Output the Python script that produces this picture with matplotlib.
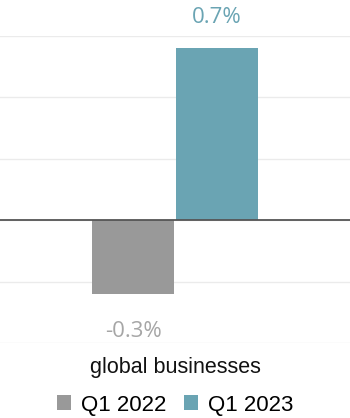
import matplotlib
matplotlib.use("Agg")
import matplotlib.pyplot as plt
from matplotlib.patches import Patch
from matplotlib.ticker import MultipleLocator

categories = ["global businesses"]
series = ["Q1 2022", "Q1 2023"]
values = [-0.3, 0.7]
labels = ["-0.3%", "0.7%"]
colors = ["#999999", "#6aa4b3"]
label_colors = ["#a6a6a6", "#6aa4b3"]

fig = plt.figure(figsize=(3.5, 4.18), dpi=100)
ax = fig.add_axes([0.0, 1 - 343/418, 1.0, (343 - 36)/418])

width = 0.234
offsets = [-0.12, 0.12]
for i, (s, v) in enumerate(zip(series, values)):
    bars = ax.bar(0 + offsets[i], v, width=width, color=colors[i], zorder=2)
    b = bars[0]
    dy = 31 if v >= 0 else -38
    ax.annotate(labels[i], (b.get_x() + b.get_width()/2, v), xytext=(0, dy),
                textcoords="offset pixels", ha="center", va="center",
                fontsize=16, family="Open Sans", color=label_colors[i],
                annotation_clip=False)

ax.set_xlim(-0.5, 0.5)
ax.set_ylim(-0.5, 0.75)
ax.yaxis.set_major_locator(MultipleLocator(0.25))
ax.grid(axis="y", color="#ebebeb", linewidth=1.0, zorder=0)
ax.axhline(0, color="#555555", linewidth=1.3, zorder=3)
for sp in ax.spines.values():
    sp.set_visible(False)
ax.tick_params(left=False, bottom=False, labelleft=False, labelbottom=False)

fig.text(0.5, 1 - 367/418, categories[0], ha="center", va="center",
         fontsize=15.5, family="Liberation Sans", color="#111111")

handles = [Patch(facecolor=c, edgecolor="none") for c in colors]
fig.legend(handles, series, loc="center", bbox_to_anchor=(0.5, 1 - 405/418),
           ncol=2, frameon=False, prop={"family": "Liberation Sans", "size": 16},
           handlelength=0.64, handleheight=0.64, handletextpad=0.45, columnspacing=0.8,
           borderpad=0, borderaxespad=0)

fig.savefig("out.png", dpi=100)
